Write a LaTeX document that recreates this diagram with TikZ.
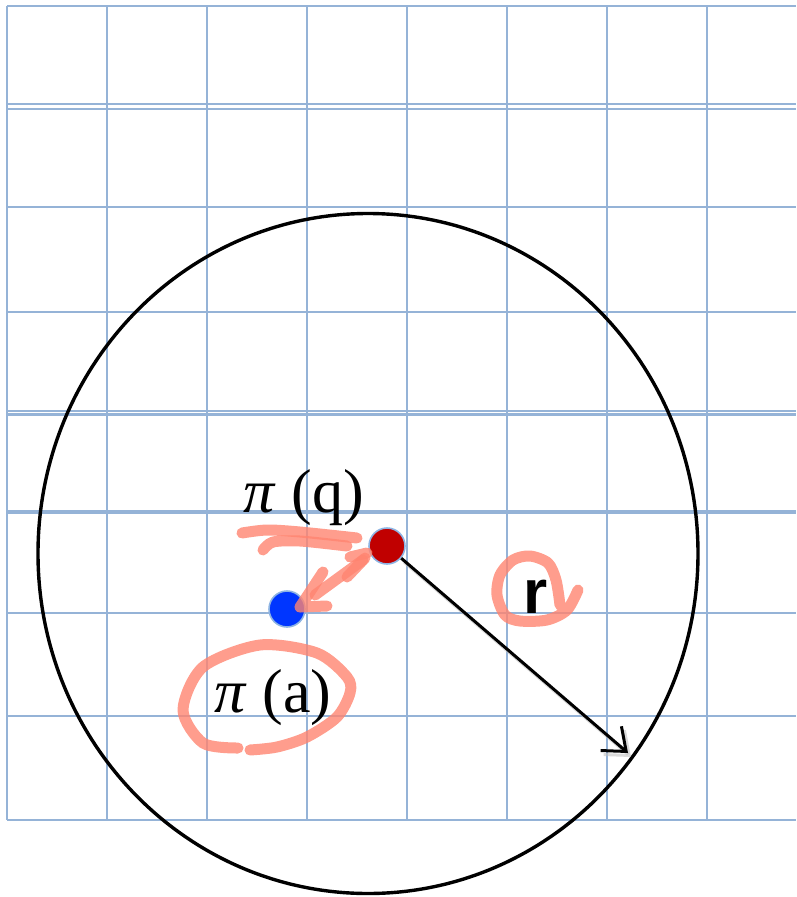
\documentclass[tikz,border=0pt]{standalone}
\usepackage{fontspec}
\setmainfont{Liberation Serif}
\newfontfamily\arialfont{Liberation Sans}
\usetikzlibrary{arrows.meta}
\definecolor{GridBlue}{HTML}{95B3D7}
\definecolor{DotRed}{HTML}{C00000}
\definecolor{DotBlue}{HTML}{0036FF}
\definecolor{DotRim}{HTML}{8EB4E3}
\definecolor{PenPink}{HTML}{FF8470}

\begin{document}
\begin{tikzpicture}[x=1pt,y=-1pt,
  gridline/.style={GridBlue,line width=2.6pt},
  dot/.style={circle,draw=DotRim,line width=1.6pt,minimum size=36pt,inner sep=0},
  lbl/.style={font=\fontsize{62}{66}\selectfont,inner sep=0,anchor=base},
  scribble/.style={PenPink,opacity=0.8,line width=11pt,line cap=round,line join=round},
  rarrow/.style={line width=3pt,-{Straight Barb[length=20pt,width=32pt,line width=3pt]}}]
  \useasboundingbox (0,0) rectangle (796,897);
  % grid (double lines where the sheet was pasted)
  \foreach \y in {6,104,109,207,312,411,414.5,511.5,513,613,716,820}
     \draw[gridline] (7,\y) -- (796,\y);
  \foreach \x in {7,107,...,707}
     \draw[gridline] (\x,6) -- (\x,820);
  % ball of radius r
  \coordinate (c) at (368,553.5);
  \draw[line width=3.4pt] (c) ellipse (330 and 340);
  \coordinate (rtip) at (628,753);
  % points
  \node[dot,fill=DotRed] (q) at (387,546) {};
  \node[dot,fill=DotBlue] (a) at (287,609) {};
  \draw[rarrow,black!25,opacity=.6,transform canvas={shift={(3pt,-4pt)}}] (q) -- (rtip);
  \draw[rarrow] (q) -- (rtip);
  % labels
  \node[lbl] (piq) at (304,512) {\textit{π} (q)};
  \node[lbl] (pia) at (273,712) {\textit{π} (a)};
  \node[lbl,font=\fontsize{62}{66}\selectfont\arialfont\bfseries] (rlab) at (536,613) {r};
  % pen marks
  \draw[scribble] plot[smooth] coordinates {(242,533) (267,530) (300,532) (357,538)};
  \draw[scribble] plot[smooth] coordinates {(263,550) (273,542) (300,541) (347,546)};
  \draw[scribble] (350,557) -- (367,553);
  \draw[scribble] (363,560) -- (315,595);
  \draw[scribble] (347,577) -- (365,558);
  \draw[scribble] (323,572) -- (300,607) -- (327,606);
  \draw[scribble] plot[smooth] coordinates {(238,748) (203,743) (183,710) (203,667) (260,645)
     (317,653) (347,677) (350,693) (337,717) (307,737) (277,747) (250,750)};
  \draw[scribble] plot[smooth] coordinates {(578,590) (567,610) (547,620) (520,621) (505,615)
     (497,595) (500,575) (513,560) (530,556) (548,563) (556,580) (560,605)};
\end{tikzpicture}
\end{document}
